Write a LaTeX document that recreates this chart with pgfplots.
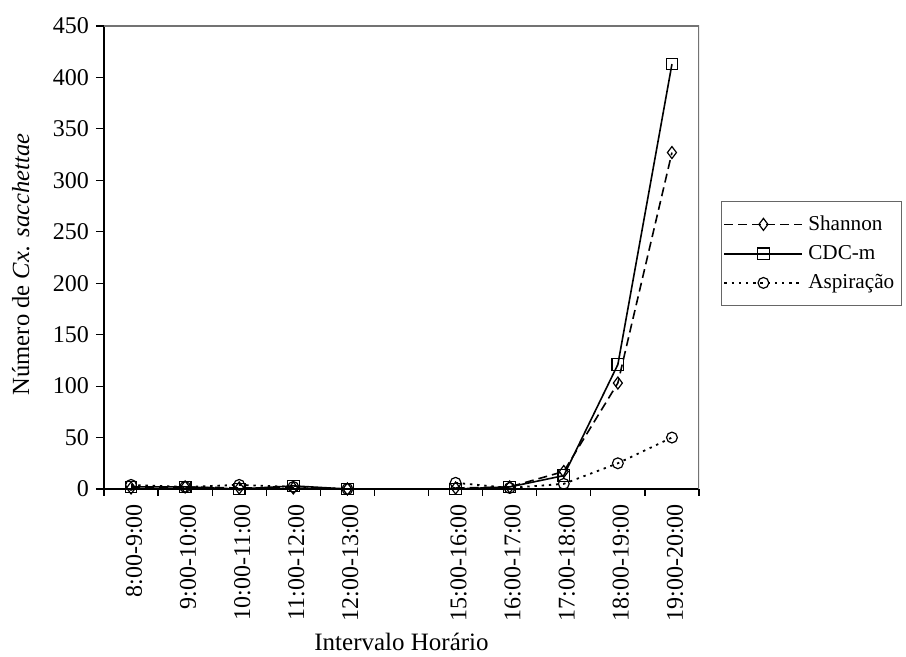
\documentclass[border=0pt]{standalone}
\usepackage{fontspec}
\setmainfont{Liberation Serif}
\usepackage{pgfplots}
\pgfplotsset{compat=1.18}
\begin{document}
\begin{tikzpicture}
\useasboundingbox (-52pt,-84pt) rectangle (401pt,244.5pt);
\begin{axis}[
  at={(0pt,0pt)}, anchor=south west,
  scale only axis, width=297.5pt, height=231.5pt,
  xmin=-0.5, xmax=10.5, ymin=0, ymax=450,
  ytick={0,50,...,450},
  xtick={0,...,10},
  xticklabels={8:00-9:00,9:00-10:00,10:00-11:00,11:00-12:00,12:00-13:00,,15:00-16:00,16:00-17:00,17:00-18:00,18:00-19:00,19:00-20:00},
  minor xtick={-0.5,0.5,...,10.5},
  major x tick style={draw=none},
  minor tick length=3.5pt, major tick length=4pt,
  tick align=outside, tick pos=left,
  axis x line*=bottom, axis y line*=left,
  axis line style={line width=0.8pt},
  tick style={line width=0.6pt, black},
  xticklabel style={rotate=90, anchor=east, font=\fontsize{12}{14}\selectfont, yshift=-1.5pt},
  yticklabel style={font=\fontsize{12}{14}\selectfont},
  /pgf/number format/assume math mode=true,
  unbounded coords=jump,
  ylabel={Número de \textit{Cx. sacchettae}},
  ylabel style={at={(axis description cs:-0.14,0.485)}, anchor=center, rotate=0, font=\fontsize{12.3}{14}\selectfont},
  xlabel={Intervalo Horário},
  xlabel style={at={(axis description cs:0.5,-0.33)}, anchor=center, font=\fontsize{12.5}{14}\selectfont},
  legend style={at={(axis description cs:1.037,0.622)}, anchor=north west,
    draw=black!60, line width=0.5pt, font=\fontsize{10.6}{12}\selectfont,
    inner xsep=1pt, inner ysep=5pt, row sep=2pt,
    nodes={inner xsep=2.5pt}},
  legend cell align=left,
  legend image code/.code={\draw[mark repeat=2,mark phase=2] plot coordinates {(0pt,0pt) (19.5pt,0pt) (39pt,0pt)};},
]
\addplot[black, line width=0.8pt, dash pattern=on 4.5pt off 2.5pt, mark=diamond, mark size=3pt,
  mark options={solid, fill=white, line width=0.6pt}]
  coordinates {(0,1) (1,2) (2,1) (3,1) (4,0) (5,nan) (6,1) (7,2) (8,17) (9,103) (10,327)};
\addlegendentry{Shannon}
\addplot[black, line width=0.8pt, mark=square, mark size=2.9pt,
  mark options={solid, fill=white, line width=0.6pt}]
  coordinates {(0,2) (1,2) (2,0) (3,3) (4,0) (5,nan) (6,0) (7,2) (8,13) (9,121) (10,413)};
\addlegendentry{CDC-m}
\addplot[black, line width=0.9pt, dash pattern=on 1.2pt off 2.4pt, mark=o, mark size=2.7pt,
  mark options={solid, line width=0.6pt}]
  coordinates {(0,4) (1,2) (2,4) (3,2) (4,0) (5,nan) (6,6) (7,1) (8,5) (9,25) (10,50)};
\addlegendentry{Aspiração}
\draw[black!55, line width=0.6pt] (rel axis cs:0,1) -- (rel axis cs:1,1) -- (rel axis cs:1,0);
\end{axis}
\end{tikzpicture}
\end{document}
